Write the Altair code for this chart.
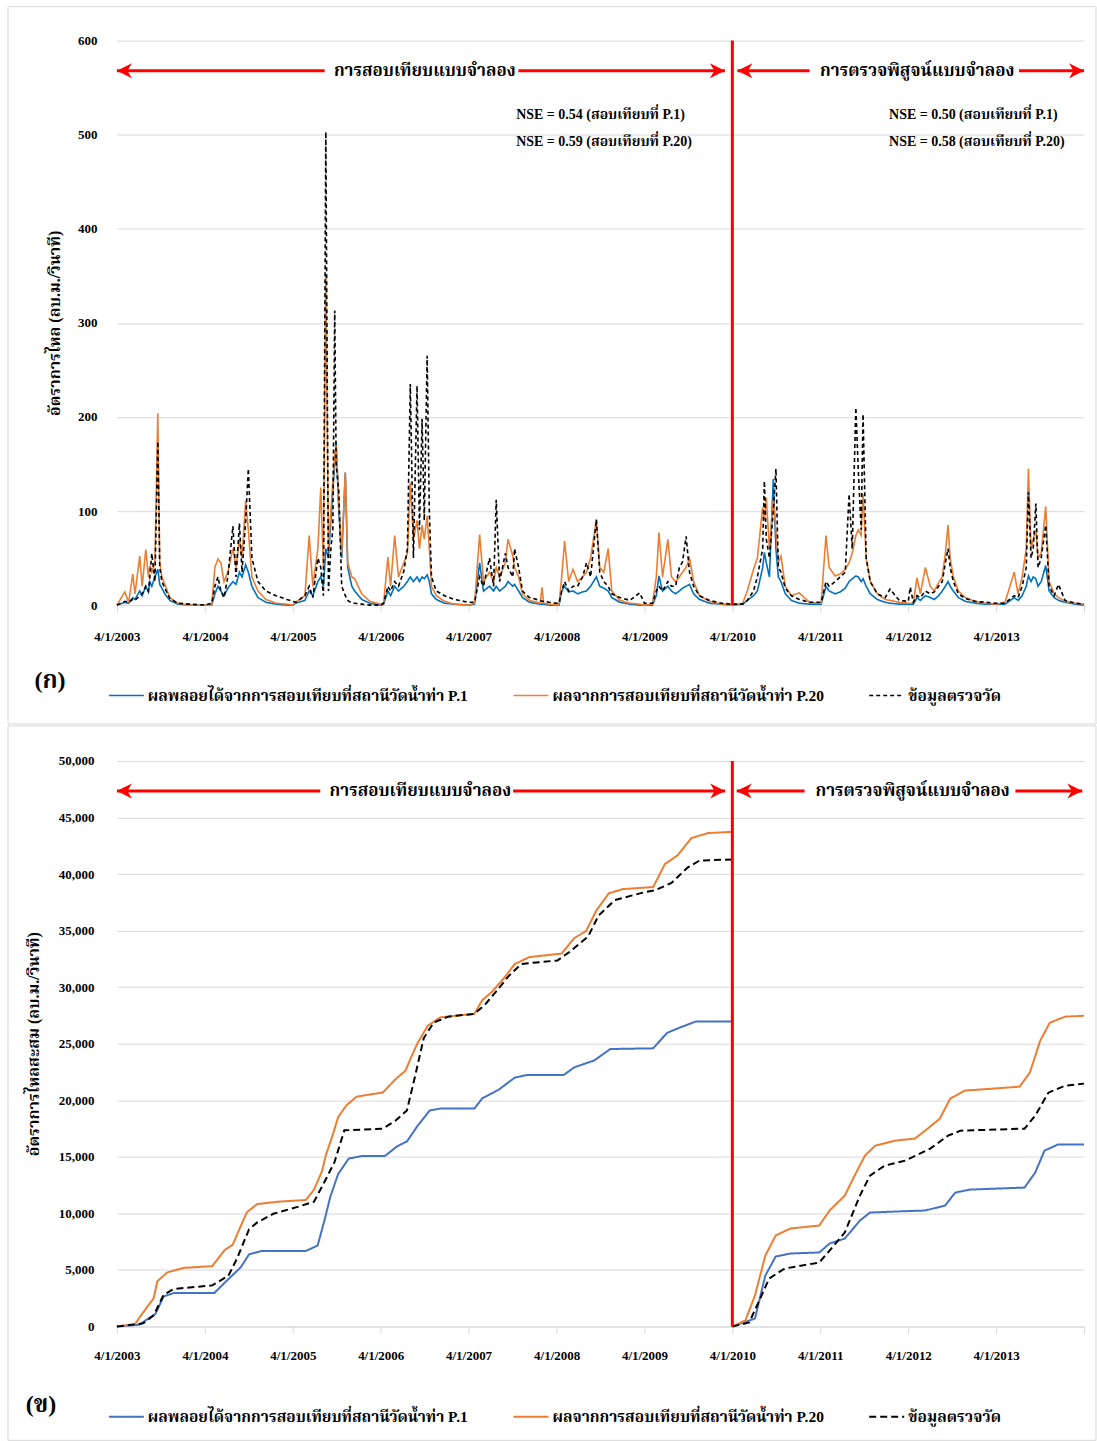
import altair as alt
import pandas as pd

FONT = "Liberation Serif, Norasi, Noto Serif Thai, Noto Sans Thai, Garuda, serif"
GRID = "#d9d9d9"

S_P1 = "ผลพลอยได้จากการสอบเทียบที่สถานีวัดน้ำท่า P.1"
S_P20 = "ผลจากการสอบเทียบที่สถานีวัดน้ำท่า P.20"
S_OBS = "ข้อมูลตรวจวัด"
SERIES = [S_P1, S_P20, S_OBS]

Y1_TITLE = "อัตราการไหล (ลบ.ม./วินาที)"
Y2_TITLE = "อัตราการไหลสะสม (ลบ.ม./วินาที)"
CAL_TEXT = "การสอบเทียบแบบจำลอง"
VAL_TEXT = "การตรวจพิสูจน์แบบจำลอง"
NSE_CAL = ["NSE = 0.54 (สอบเทียบที่ P.1)", "NSE = 0.59 (สอบเทียบที่ P.20)"]
NSE_VAL = ["NSE = 0.50 (สอบเทียบที่ P.1)", "NSE = 0.58 (สอบเทียบที่ P.20)"]
NSE_Y = [521, 492]
TICK_YEARS = [2003, 2004, 2005, 2006, 2007, 2008, 2009, 2010, 2011, 2012, 2013, 2014]
SPLIT_DATE = "2010-04-01"

DAILY_DATES = [
    "2003-04-01", "2003-05-04", "2003-05-20", "2003-06-06", "2003-06-15", "2003-07-05", "2003-07-15", "2003-07-30",
    "2003-08-10", "2003-08-16", "2003-08-24", "2003-09-06", "2003-09-18", "2003-09-26", "2003-10-05", "2003-10-17",
    "2003-11-07", "2003-12-10", "2004-01-29",
    "2004-04-01", "2004-04-29", "2004-05-12", "2004-05-25", "2004-06-06", "2004-06-19", "2004-07-05", "2004-07-26",
    "2004-08-08", "2004-08-22", "2004-09-02", "2004-09-17", "2004-09-28", "2004-10-13", "2004-11-07", "2004-12-10",
    "2005-01-21", "2005-03-07",
    "2005-04-01", "2005-04-13", "2005-05-21", "2005-06-08", "2005-06-23", "2005-07-14", "2005-07-26", "2005-08-06",
    "2005-08-16", "2005-08-27", "2005-09-06", "2005-09-14", "2005-09-22", "2005-09-28", "2005-10-09", "2005-10-21",
    "2005-11-05", "2005-11-15", "2005-12-02", "2005-12-14", "2006-01-12", "2006-02-15",
    "2006-04-01", "2006-04-13", "2006-05-01", "2006-05-12", "2006-05-29", "2006-06-14", "2006-07-06", "2006-07-21",
    "2006-08-02", "2006-08-15", "2006-08-30", "2006-09-09", "2006-09-20", "2006-09-29", "2006-10-11", "2006-10-20",
    "2006-10-29", "2006-11-18", "2006-12-22", "2007-02-01",
    "2007-04-01", "2007-04-26", "2007-05-17", "2007-06-02", "2007-06-27", "2007-07-14", "2007-07-25", "2007-08-08",
    "2007-09-01", "2007-09-12", "2007-10-02", "2007-10-09", "2007-10-26", "2007-11-11", "2007-12-10", "2008-01-24",
    "2008-01-31", "2008-02-07", "2008-03-01",
    "2008-04-01", "2008-04-11", "2008-04-22", "2008-05-04", "2008-05-21", "2008-06-08", "2008-06-27", "2008-07-18",
    "2008-08-03", "2008-08-20", "2008-09-13", "2008-09-27", "2008-10-14", "2008-11-01", "2008-11-16", "2008-12-19",
    "2009-01-30", "2009-03-12",
    "2009-04-01", "2009-05-04", "2009-05-20", "2009-05-31", "2009-06-15", "2009-07-07", "2009-07-22", "2009-08-08",
    "2009-08-24", "2009-09-06", "2009-09-21", "2009-10-05", "2009-10-22", "2009-11-15", "2009-12-27", "2010-02-15",
    "2010-04-01", "2010-05-14", "2010-06-02", "2010-06-28", "2010-07-14", "2010-08-05", "2010-08-12", "2010-08-20",
    "2010-09-02", "2010-09-18", "2010-09-29", "2010-10-09", "2010-10-20", "2010-11-07", "2010-12-02", "2011-01-04",
    "2011-02-15",
    "2011-04-01", "2011-04-05", "2011-04-25", "2011-05-08", "2011-06-02", "2011-06-23", "2011-07-14", "2011-07-30",
    "2011-08-12", "2011-08-27", "2011-09-06", "2011-09-18", "2011-09-26", "2011-10-09", "2011-10-26", "2011-11-24",
    "2011-12-27", "2012-01-16", "2012-02-23",
    "2012-04-01", "2012-04-09", "2012-04-22", "2012-05-07", "2012-05-21", "2012-06-11", "2012-07-01", "2012-07-18",
    "2012-08-05", "2012-08-20", "2012-09-02", "2012-09-13", "2012-09-22", "2012-10-05", "2012-10-26", "2012-11-24",
    "2013-01-04", "2013-02-15",
    "2013-04-01", "2013-05-08", "2013-06-15", "2013-07-01", "2013-07-18", "2013-08-04", "2013-08-13", "2013-08-24",
    "2013-09-02", "2013-09-13", "2013-09-22", "2013-10-05", "2013-10-24", "2013-11-07", "2013-11-28", "2013-12-16",
    "2014-01-12", "2014-02-23", "2014-04-01",
]
Q_P1 = [
    0, 3, 2, 8, 6, 15, 10, 20, 14, 25, 20, 30, 38, 22, 18, 12, 5, 1, 0,
    0, 0, 12, 20, 15, 10, 18, 25, 22, 35, 30, 43, 35, 20, 8, 3, 1, 0,
    0, 2, 5, 15, 10, 25, 30, 20, 60, 50, 90, 120, 150, 173, 100, 50, 141, 40, 20, 15, 6, 2,
    0, 1, 15, 10, 20, 15, 20, 25, 30, 25, 30, 25, 30, 28, 32, 25, 12, 6, 2, 1,
    0, 1, 45, 15, 20, 15, 20, 15, 20, 25, 20, 22, 15, 8, 3, 1, 1, 1, 0,
    0, 0, 15, 20, 14, 15, 12, 14, 15, 20, 30, 20, 18, 15, 8, 3, 1, 0,
    0, 0, 10, 31, 15, 20, 15, 12, 15, 18, 20, 22, 12, 6, 2, 1,
    0, 1, 5, 10, 15, 40, 56, 45, 30, 134, 60, 30, 25, 12, 5, 2, 1,
    1, 1, 20, 15, 12, 14, 18, 25, 28, 31, 30, 25, 28, 20, 12, 6, 3, 2, 1,
    1, 1, 1, 8, 5, 10, 8, 6, 10, 15, 20, 25, 20, 15, 8, 4, 2, 1,
    1, 1, 8, 5, 10, 20, 31, 25, 30, 28, 20, 25, 42, 15, 8, 5, 3, 1, 0,
]
Q_P20 = [
    0, 14, 3, 33, 12, 52, 20, 59, 30, 42, 35, 45, 204, 45, 30, 22, 8, 2, 0,
    0, 0, 40, 49, 45, 25, 35, 60, 40, 70, 50, 111, 80, 30, 15, 6, 2, 1,
    0, 3, 10, 74, 20, 60, 125, 40, 351, 60, 100, 130, 160, 169, 110, 55, 141, 45, 30, 28, 12, 4,
    1, 2, 51, 20, 74, 30, 45, 55, 130, 70, 90, 60, 85, 70, 95, 60, 20, 10, 4, 1,
    0, 2, 75, 25, 35, 25, 40, 30, 45, 70, 52, 40, 30, 12, 5, 2, 19, 2, 1,
    0, 1, 30, 68, 25, 38, 25, 30, 35, 50, 91, 40, 35, 60, 15, 5, 2, 1,
    0, 1, 30, 77, 30, 70, 30, 25, 30, 35, 40, 50, 25, 10, 4, 1,
    0, 2, 15, 38, 50, 104, 90, 114, 60, 112, 80, 45, 52, 20, 10, 13, 3,
    2, 2, 74, 40, 31, 33, 38, 45, 55, 74, 80, 74, 118, 50, 25, 12, 6, 5, 3,
    2, 2, 2, 29, 12, 40, 20, 15, 24, 30, 55, 85, 50, 30, 15, 8, 4, 2,
    1, 3, 35, 12, 30, 60, 145, 60, 70, 80, 50, 55, 105, 25, 12, 8, 4, 2, 1,
]
Q_OBS = [
    0, 4, 3, 6, 5, 10, 12, 20, 15, 30, 55, 25, 174, 40, 25, 18, 7, 2, 1,
    0, 2, 20, 30, 15, 8, 30, 84, 30, 87, 35, 90, 145, 50, 25, 15, 10, 6,
    4, 3, 10, 20, 8, 50, 40, 10, 503, 15, 60, 80, 313, 150, 120, 20, 10, 5, 2, 2, 1, 0,
    0, 2, 20, 15, 25, 20, 36, 60, 235, 50, 233, 80, 198, 90, 265, 100, 30, 15, 10, 6,
    3, 3, 30, 20, 50, 20, 112, 25, 55, 40, 30, 60, 40, 15, 8, 5, 4, 4, 3,
    2, 2, 15, 25, 15, 20, 20, 30, 45, 30, 91, 35, 25, 20, 12, 8, 5, 13,
    2, 2, 15, 20, 15, 25, 20, 20, 40, 46, 73, 35, 20, 10, 5, 2,
    1, 1, 5, 15, 30, 60, 132, 70, 50, 100, 145, 40, 35, 18, 10, 6, 3,
    3, 3, 25, 20, 25, 30, 35, 118, 60, 210, 145, 80, 203, 50, 25, 12, 8, 17, 5,
    4, 19, 3, 10, 8, 15, 12, 14, 20, 25, 45, 60, 40, 25, 12, 7, 4, 3,
    2, 2, 10, 8, 20, 40, 120, 50, 60, 108, 40, 50, 85, 20, 10, 22, 5, 2, 1,
]

# ---------------- cumulative flow ----------------
CUM_P1_CAL_DATES = [
    "2003-04-01", "2003-07-02", "2003-09-09", "2003-10-12", "2003-11-24", "2004-05-10", "2004-06-22", "2004-08-28",
    "2004-10-01", "2004-11-21", "2005-05-25", "2005-07-13", "2005-08-10", "2005-09-04", "2005-10-06", "2005-11-19",
    "2006-01-16", "2006-04-19", "2006-06-07", "2006-07-19", "2006-09-01", "2006-10-22", "2006-12-04", "2007-04-25",
    "2007-05-28", "2007-08-04", "2007-10-10", "2007-12-01", "2008-05-01", "2008-06-13", "2008-09-04", "2008-11-10",
    "2009-05-07", "2009-07-04", "2009-08-25", "2009-11-01", "2010-03-31",
]
CUM_P1_CAL = [
    0, 150, 1130, 2650, 2960, 2960, 3870, 5240, 6370, 6670, 6670, 7160, 9350, 11490, 13470, 14840,
    15080, 15080, 15910, 16360, 17730, 19100, 19260, 19260, 20170, 20930, 22000, 22240, 22240, 22910, 23520, 24530,
    24590, 25960, 26420, 26970, 26970,
]
CUM_P20_CAL_DATES = [
    "2003-04-01", "2003-06-15", "2003-07-10", "2003-09-01", "2003-09-16", "2003-10-28", "2004-01-04", "2004-05-01",
    "2004-06-22", "2004-07-25", "2004-08-28", "2004-09-22", "2004-11-04", "2005-01-28", "2005-05-25", "2005-06-28",
    "2005-08-01", "2005-08-16", "2005-09-12", "2005-10-06", "2005-11-10", "2005-12-22", "2006-04-10", "2006-06-01",
    "2006-07-13", "2006-08-06", "2006-09-01", "2006-10-13", "2006-12-04", "2007-04-25", "2007-05-28", "2007-07-09",
    "2007-08-28", "2007-10-10", "2007-12-10", "2008-04-22", "2008-06-13", "2008-08-01", "2008-09-13", "2008-11-04",
    "2009-01-01", "2009-05-07", "2009-06-25", "2009-08-16", "2009-10-13", "2009-12-22", "2010-03-31",
]
CUM_P20_CAL = [
    0, 200, 975, 2500, 4000, 4780, 5180, 5330, 6760, 7220, 8900, 10100, 10820, 11030, 11180, 12100,
    13770, 15140, 16820, 18500, 19560, 20320, 20690, 21850, 22610, 23830, 25050, 26570, 27330, 27640, 28850, 29620,
    30840, 32050, 32660, 32970, 34340, 34950, 36780, 38300, 38670, 38850, 40890, 41650, 43180, 43630, 43730,
]
CUM_OBS_CAL_DATES = [
    "2003-04-01", "2003-07-19", "2003-09-01", "2003-10-12", "2003-11-24", "2004-05-01", "2004-07-07", "2004-08-12",
    "2004-10-01", "2004-11-04", "2005-01-10", "2005-04-21", "2005-06-28", "2005-08-16", "2005-09-21", "2005-11-01",
    "2006-04-10", "2006-06-01", "2006-07-19", "2006-08-22", "2006-09-27", "2006-11-07", "2007-01-06", "2007-04-25",
    "2007-06-06", "2007-07-25", "2007-09-15", "2007-11-06", "2008-04-04", "2008-05-25", "2008-08-10", "2008-09-22",
    "2008-11-28", "2009-03-25", "2009-05-13", "2009-07-22", "2009-09-28", "2009-11-16", "2010-03-31",
]
CUM_OBS_CAL = [
    0, 270, 975, 2800, 3320, 3630, 4480, 6000, 8590, 9200, 9960, 10570, 11030, 13010, 14530, 17340,
    17490, 18190, 19100, 22150, 25500, 26870, 27390, 27640, 28400, 29620, 30990, 32050, 32360, 33120, 34490, 36320,
    37690, 38360, 38550, 39210, 40590, 41200, 41290,
]
CUM_P1_VAL_DATES = [
    "2010-04-01", "2010-07-04", "2010-08-16", "2010-09-28", "2010-11-28", "2011-03-28", "2011-05-10", "2011-07-12",
    "2011-09-13", "2011-10-25", "2012-02-06", "2012-06-10", "2012-09-01", "2012-10-13", "2012-12-13", "2013-07-28",
    "2013-09-10", "2013-10-19", "2013-12-13", "2014-04-01",
]
CUM_P1_VAL = [0, 700, 4500, 6180, 6450, 6540, 7330, 7770, 9360, 10070, 10160, 10250, 10690, 11840, 12100, 12280,
              13600, 15550, 16080, 16080]
CUM_P20_VAL_DATES = [
    "2010-04-01", "2010-05-25", "2010-07-04", "2010-08-16", "2010-09-28", "2010-11-28", "2011-03-28", "2011-05-10",
    "2011-07-12", "2011-08-22", "2011-10-04", "2011-11-16", "2012-02-06", "2012-04-28", "2012-06-10", "2012-08-10",
    "2012-09-22", "2012-11-22", "2013-07-07", "2013-08-19", "2013-10-01", "2013-11-10", "2014-01-12", "2014-04-01",
]
CUM_P20_VAL = [0, 530, 2740, 6270, 8040, 8660, 8920, 10250, 11570, 13340, 15110, 15990, 16430, 16610, 17310, 18370,
               20140, 20850, 21200, 22440, 25270, 26860, 27390, 27470]
CUM_OBS_VAL_DATES = [
    "2010-04-01", "2010-06-10", "2010-07-22", "2010-09-01", "2010-11-04", "2011-03-28", "2011-05-10", "2011-07-12",
    "2011-09-13", "2011-10-25", "2011-12-25", "2012-03-19", "2012-07-01", "2012-09-13", "2012-11-04", "2013-07-28",
    "2013-09-10", "2013-11-04", "2014-01-12", "2014-04-01",
]
CUM_OBS_VAL = [0, 350, 2300, 4240, 5120, 5650, 6710, 8300, 11570, 13340, 14220, 14660, 15720, 16870, 17310, 17490,
               18640, 20670, 21290, 21470]

# ---------------- annotation positions (period arrows) ----------------
TOP_ARROW_Y = 568
BOT_ARROW_Y = 47350
TOP_ARROW_SEGS = [("2003-04-01", "2005-08-11"), ("2007-10-25", "2010-03-01"),
                  ("2010-04-22", "2011-02-16"), ("2013-07-05", "2014-04-01")]
TOP_HEADS_L = ["2003-04-01", "2010-04-22"]
TOP_HEADS_R = ["2010-03-01", "2014-04-01"]
TOP_LABEL_X = ["2006-10-01", "2012-05-08"]
BOT_ARROW_SEGS = [("2003-04-01", "2005-07-24"), ("2007-10-03", "2010-03-02"),
                  ("2010-04-19", "2011-01-26"), ("2013-06-20", "2014-03-25")]
BOT_HEADS_L = ["2003-04-01", "2010-04-19"]
BOT_HEADS_R = ["2010-03-02", "2014-03-25"]
BOT_LABEL_X = ["2006-09-13", "2012-04-19"]
NSE_X = ["2007-10-16", "2012-01-12"]

# ---------------- build tables ----------------
for a, b in [(DAILY_DATES, Q_P1), (DAILY_DATES, Q_P20), (DAILY_DATES, Q_OBS),
             (CUM_P1_CAL_DATES, CUM_P1_CAL), (CUM_P20_CAL_DATES, CUM_P20_CAL), (CUM_OBS_CAL_DATES, CUM_OBS_CAL),
             (CUM_P1_VAL_DATES, CUM_P1_VAL), (CUM_P20_VAL_DATES, CUM_P20_VAL), (CUM_OBS_VAL_DATES, CUM_OBS_VAL)]:
    if len(a) != len(b):
        raise ValueError(f"length mismatch {len(a)} vs {len(b)}")

daily = pd.concat([
    pd.DataFrame({"date": DAILY_DATES, "flow": vals, "series": name})
    for name, vals in zip(SERIES, [Q_P1, Q_P20, Q_OBS])
], ignore_index=True)

cum_parts = []
for name, period, d, v in [
    (S_P1, "cal", CUM_P1_CAL_DATES, CUM_P1_CAL), (S_P20, "cal", CUM_P20_CAL_DATES, CUM_P20_CAL),
    (S_OBS, "cal", CUM_OBS_CAL_DATES, CUM_OBS_CAL), (S_P1, "val", CUM_P1_VAL_DATES, CUM_P1_VAL),
    (S_P20, "val", CUM_P20_VAL_DATES, CUM_P20_VAL), (S_OBS, "val", CUM_OBS_VAL_DATES, CUM_OBS_VAL),
]:
    cum_parts.append(pd.DataFrame({"date": d, "flow": v, "series": name, "period": period}))
cum = pd.concat(cum_parts, ignore_index=True)

W = 968
H1 = 565
H2 = 566

X_SCALE = alt.Scale(type="utc", domain=[alt.DateTime(year=2003, month=4, date=1, utc=True),
                                        alt.DateTime(year=2014, month=4, date=1, utc=True)], nice=False)
TICKS = [alt.DateTime(year=y, month=4, date=1, utc=True) for y in TICK_YEARS]


def x_axis(pad):
    return alt.Axis(values=TICKS, title=None, grid=False, domainColor=GRID, tickColor=GRID, tickSize=7,
                    labelExpr="utcyear(datum.value) >= 2014 ? '' : utcFormat(datum.value, '%-m/%-d/%Y')",
                    labelFont=FONT, labelFontSize=13, labelFontWeight="bold", labelColor="black",
                    labelPadding=pad, labelOverlap=False, labelFlush=False)


X_AX_TOP = x_axis(18)
X_AX_BOT = x_axis(16)

Y_SCALE_TOP = alt.Scale(domain=[0, 600], nice=False)
Y_SCALE_BOT = alt.Scale(domain=[0, 50000], nice=False)
Y_AX_TOP = alt.Axis(values=[0, 100, 200, 300, 400, 500, 600], title=Y1_TITLE, grid=True, gridColor=GRID,
                    domain=False, ticks=False, labelFont=FONT, labelFontSize=13, labelFontWeight="bold",
                    labelColor="black", labelPadding=20, titleFont=FONT, titleFontSize=16,
                    titleFontWeight="bold", titleColor="black", titleX=-62, titleY=H1 / 2,
                    titleAngle=270, titleAlign="center", titleBaseline="middle")
Y_AX_BOT = alt.Axis(values=[0, 5000, 10000, 15000, 20000, 25000, 30000, 35000, 40000, 45000, 50000],
                    labelExpr="format(datum.value, ',')", title=Y2_TITLE, grid=True, gridColor=GRID,
                    domain=False, ticks=False, labelFont=FONT, labelFontSize=13, labelFontWeight="bold",
                    labelColor="black", labelPadding=23, titleFont=FONT, titleFontSize=16,
                    titleFontWeight="bold", titleColor="black", titleX=-83, titleY=H2 / 2,
                    titleAngle=270, titleAlign="center", titleBaseline="middle")

LEFT_HEAD = "M0,0 L2,-1 L1.4,0 L2,1 Z"
RIGHT_HEAD = "M0,0 L-2,-1 L-1.4,0 L-2,1 Z"
RED = "#ff0000"


def legend(y, dash_w):
    return alt.Legend(orient="none", legendX=-9, legendY=y, direction="horizontal", title=None,
                      symbolType="stroke", symbolSize=1225, symbolStrokeWidth=dash_w,
                      labelFont=FONT, labelFontSize=15.5, labelFontWeight="bold", labelColor="black",
                      labelLimit=0, columnPadding=41, labelOffset=3, padding=0)


def panel(df, H, x_ax, y_scale, y_ax, colors, dashes, lw, legend_y, arrow_y, segs, heads_l, heads_r,
          label_x, tag, tag_xy, rect, nse):
    X = lambda f: alt.X(f, type="temporal", scale=X_SCALE, axis=x_ax)
    Y = lambda f: alt.Y(f, type="quantitative", scale=y_scale, axis=y_ax)
    cscale = alt.Scale(domain=SERIES, range=colors)
    dscale = alt.Scale(domain=SERIES, range=dashes)
    leg = legend(legend_y, lw)

    one = pd.DataFrame({"k": [0]})
    border = alt.Chart(one).mark_rect(fillOpacity=0, stroke=GRID, strokeWidth=1).encode(
        x=alt.value(rect[0]), x2=alt.value(rect[1]), y=alt.value(rect[2]), y2=alt.value(rect[3]))

    split = alt.Chart(pd.DataFrame({"date": [SPLIT_DATE]})).mark_rule(color=RED, strokeWidth=3).encode(
        x=X("date"), y=alt.value(0), y2=alt.value(H))

    lines = []
    for s in SERIES:
        enc = dict(x=X("date"), y=Y("flow"),
                   color=alt.Color("series:N", scale=cscale, legend=leg),
                   strokeDash=alt.StrokeDash("series:N", scale=dscale, legend=leg))
        if "period" in df.columns:
            enc["detail"] = "period:N"
        lines.append(alt.Chart(df).transform_filter(alt.datum.series == s)
                     .mark_line(strokeWidth=lw).encode(**enc))

    seg_df = pd.DataFrame({"x": [a for a, b in segs], "x2": [b for a, b in segs], "y": arrow_y})
    arrows = alt.Chart(seg_df).mark_rule(color=RED, strokeWidth=3).encode(
        x=X("x"), x2=alt.X2("x2"), y=Y("y"))
    hl = alt.Chart(pd.DataFrame({"x": heads_l, "y": arrow_y})).mark_point(
        shape=LEFT_HEAD, filled=True, color=RED, size=225, opacity=1, strokeWidth=0).encode(x=X("x"), y=Y("y"))
    hr = alt.Chart(pd.DataFrame({"x": heads_r, "y": arrow_y})).mark_point(
        shape=RIGHT_HEAD, filled=True, color=RED, size=225, opacity=1, strokeWidth=0).encode(x=X("x"), y=Y("y"))
    lab = alt.Chart(pd.DataFrame({"x": label_x, "y": arrow_y, "t": [CAL_TEXT, VAL_TEXT]})).mark_text(
        font=FONT, fontSize=17, fontWeight="bold", color="black", align="center", baseline="middle").encode(
        x=X("x"), y=Y("y"), text="t:N")

    tag_mark = alt.Chart(one).mark_text(font=FONT, fontSize=24, fontWeight="bold", color="black",
                                        align="center", baseline="middle", text=tag).encode(
        x=alt.value(tag_xy[0]), y=alt.value(tag_xy[1]))

    layers = [border, *lines, split, arrows, hl, hr, lab, tag_mark]
    if nse:
        rows = []
        for xi, texts in zip(NSE_X, [NSE_CAL, NSE_VAL]):
            for yi, t in zip(NSE_Y, texts):
                rows.append({"x": xi, "y": yi, "t": t})
        layers.append(alt.Chart(pd.DataFrame(rows)).mark_text(
            font=FONT, fontSize=14, fontWeight="bold", color="black", align="left", baseline="middle").encode(
            x=X("x"), y=Y("y"), text="t:N"))
    return alt.layer(*layers).properties(width=W, height=H)


top = panel(daily, H1, X_AX_TOP, Y_SCALE_TOP, Y_AX_TOP, ["#0070c0", "#ed7d31", "#000000"],
            [[1, 0], [1, 0], [4, 3]], 1.6, 637, TOP_ARROW_Y, TOP_ARROW_SEGS, TOP_HEADS_L, TOP_HEADS_R,
            TOP_LABEL_X, "(ก)", (-67, 641), (-109, W + 12, -34, H1 + 119), True)
bottom = panel(cum, H2, X_AX_BOT, Y_SCALE_BOT, Y_AX_BOT, ["#4472c4", "#ed7d31", "#000000"],
               [[1, 0], [1, 0], [7, 4]], 2, 638, BOT_ARROW_Y, BOT_ARROW_SEGS, BOT_HEADS_L, BOT_HEADS_R,
               BOT_LABEL_X, "(ข)", (-76, 645), (-109, W + 12, -35, H2 + 114), False)

chart = (alt.vconcat(top, bottom, spacing=0)
         .resolve_scale(color="independent", strokeDash="independent", x="independent", y="independent")
         .resolve_legend(color="independent", strokeDash="independent")
         .properties(padding={"left": 7, "top": 5, "right": 0, "bottom": 0}, background="white")
         .configure_view(stroke=None))

chart.save("out.html", embed_options={"renderer": "svg", "actions": False})
